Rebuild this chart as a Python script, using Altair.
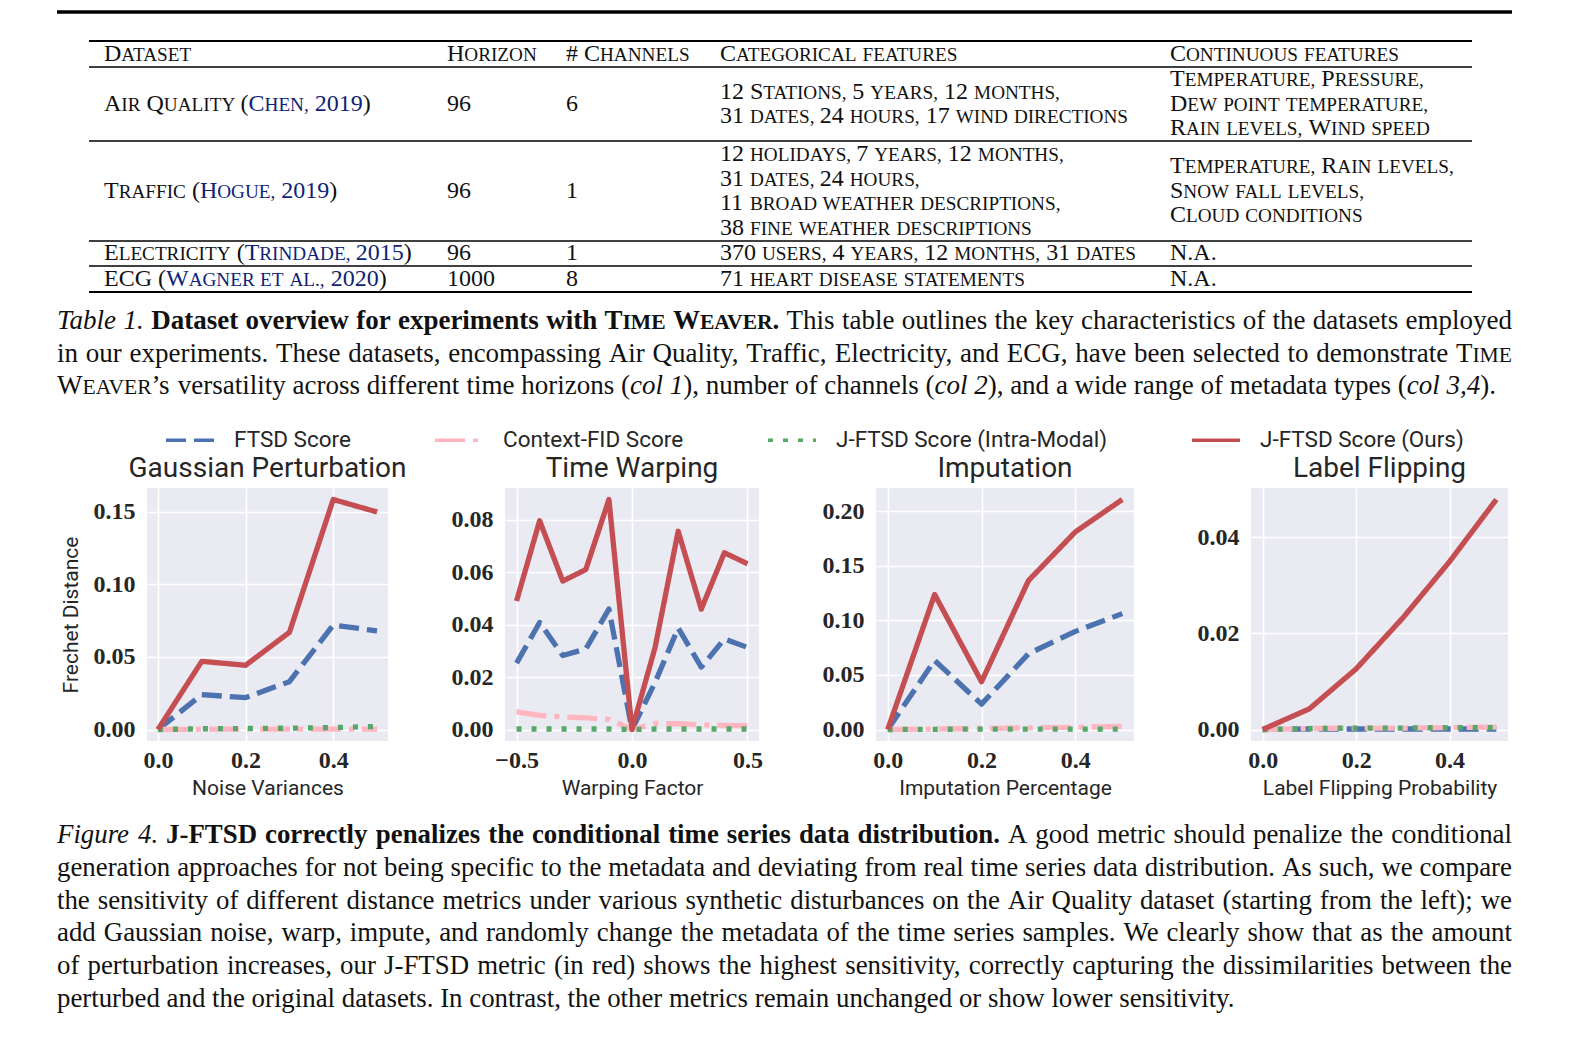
import altair as alt
import pandas as pd

# ---------------------------------------------------------------- chart data
SERIES = ["FTSD Score", "Context-FID Score", "J-FTSD Score (Intra-Modal)", "J-FTSD Score (Ours)"]

gauss_x = [0.0, 0.1, 0.2, 0.3, 0.4, 0.5]
gauss_ftsd = [0.0, 0.024, 0.022, 0.033, 0.072, 0.068]
gauss_cfid = [0.0, 0.0002, 0.0002, 0.0002, 0.0003, 0.0002]
gauss_intra = [0.0, 0.0005, 0.0007, 0.0009, 0.0013, 0.0021]
gauss_ours = [0.0, 0.047, 0.0443, 0.067, 0.1586, 0.150]

warp_x = [-0.5, -0.4, -0.3, -0.2, -0.1, 0.0, 0.1, 0.2, 0.3, 0.4, 0.5]
warp_ftsd = [0.0253, 0.0408, 0.0282, 0.0307, 0.0459, 0.0, 0.018, 0.0387, 0.0238, 0.0345, 0.0313]
warp_cfid = [0.0067, 0.0054, 0.0048, 0.0044, 0.0039, 0.0, 0.0023, 0.0022, 0.0018, 0.0016, 0.0015]
warp_intra = [0.0002, 0.0002, 0.0002, 0.0002, 0.0002, 0.0, 0.0002, 0.0002, 0.0002, 0.0002, 0.0002]
warp_ours = [0.049, 0.0796, 0.0566, 0.061, 0.0877, 0.0, 0.0313, 0.0756, 0.0459, 0.0674, 0.0632]

imp_x = [0.0, 0.1, 0.2, 0.3, 0.4, 0.5]
imp_ftsd = [0.0, 0.0634, 0.0233, 0.0695, 0.090, 0.1063]
imp_cfid = [0.0, 0.0005, 0.001, 0.0015, 0.002, 0.0028]
imp_intra = [0.0, 0.0002, 0.0003, 0.0003, 0.0004, 0.0004]
imp_ours = [0.0, 0.1239, 0.0438, 0.1366, 0.1813, 0.211]

flip_x = [0.0, 0.1, 0.2, 0.3, 0.4, 0.5]
flip_ftsd = [0.0, 0.0001, 0.0001, 0.0001, 0.0001, 0.0001]
flip_cfid = [0.0, 0.0002, 0.0003, 0.0003, 0.0004, 0.0005]
flip_intra = [0.0, 0.0002, 0.0003, 0.0003, 0.0004, 0.0004]
flip_ours = [0.0, 0.0043, 0.0126, 0.0232, 0.0349, 0.0478]

PANEL_TITLES = ["Gaussian Perturbation", "Time Warping", "Imputation", "Label Flipping"]
X_TITLES = ["Noise Variances", "Warping Factor", "Imputation Percentage", "Label Flipping Probability"]
Y_TITLE = "Frechet Distance"
X_TICKS = [[0.0, 0.2, 0.4], [-0.5, 0.0, 0.5], [0.0, 0.2, 0.4], [0.0, 0.2, 0.4]]
Y_TICKS = [[0.0, 0.05, 0.10, 0.15], [0.0, 0.02, 0.04, 0.06, 0.08],
           [0.0, 0.05, 0.10, 0.15, 0.20], [0.0, 0.02, 0.04]]

# ---------------------------------------------------------------- text data
TABLE_HEADER = ["Dataset", "Horizon", "# Channels", "Categorical features", "Continuous features"]
TABLE_DATASET = [
    [("Air Quality (", "sc"), ("Chen, 2019", "csc"), (")", "sc")],
    [("Traffic (", "sc"), ("Hogue, 2019", "csc"), (")", "sc")],
    [("Electricity (", "sc"), ("Trindade, 2015", "csc"), (")", "sc")],
    [("ECG (", "sc"), ("Wagner et al., 2020", "csc"), (")", "sc")],
]
TABLE_HORIZON = ["96", "96", "96", "1000"]
TABLE_CHANNELS = ["6", "1", "1", "8"]
TABLE_CATEGORICAL = [
    ["12 Stations, 5 years, 12 months,", "31 dates, 24 hours, 17 wind directions"],
    ["12 holidays, 7 years, 12 months,", "31 dates, 24 hours,",
     "11 broad weather descriptions,", "38 fine weather descriptions"],
    ["370 users, 4 years, 12 months, 31 dates"],
    ["71 heart disease statements"],
]
TABLE_CONTINUOUS = [
    ["Temperature, Pressure,", "Dew point temperature,", "Rain levels, Wind speed"],
    ["Temperature, Rain levels,", "Snow fall levels,", "Cloud conditions"],
    ["N.A."],
    ["N.A."],
]

TABLE_CAPTION = [
    [("Table 1.", "i"), (" ", "r"), ("Dataset overview for experiments with ", "b"), ("Time Weaver", "bsc"),
     (".", "b"), (" This table outlines the key characteristics of the datasets employed", "r")],
    [("in our experiments. These datasets, encompassing Air Quality, Traffic, Electricity, and ECG, "
      "have been selected to demonstrate ", "r"), ("Time", "sc")],
    [("Weaver", "sc"), ("\u2019s versatility across different time horizons (", "r"), ("col 1", "i"),
     ("), number of channels (", "r"), ("col 2", "i"), ("), and a wide range of metadata types (", "r"),
     ("col 3,4", "i"), (").", "r")],
]
FIGURE_CAPTION = [
    [("Figure 4.", "i"), (" ", "r"),
     ("J-FTSD correctly penalizes the conditional time series data distribution.", "b"),
     (" A good metric should penalize the conditional", "r")],
    [("generation approaches for not being specific to the metadata and deviating from real time series "
      "data distribution. As such, we compare", "r")],
    [("the sensitivity of different distance metrics under various synthetic disturbances on the Air "
      "Quality dataset (starting from the left); we", "r")],
    [("add Gaussian noise, warp, impute, and randomly change the metadata of the time series samples. "
      "We clearly show that as the amount", "r")],
    [("of perturbation increases, our J-FTSD metric (in red) shows the highest sensitivity, correctly "
      "capturing the dissimilarities between the", "r")],
    [("perturbed and the original datasets. In contrast, the other metrics remain unchanged or show "
      "lower sensitivity.", "r")],
]

# ---------------------------------------------------------------- styles / layout
COLORS = ["#4C72B0", "#FFB6C1", "#55A868", "#C44E52"]
DASHES = [[20, 8], [30, 8, 5, 8], [5, 10], [1, 0]]
INK = "#262626"
BLACK = "#111111"
BLUE = "#101f78"
PAGE_W = 1554
HT = 447          # height of the top text block
BOT0 = 795        # page y where the bottom text block starts
HB = 225
LEG_X, LEG_Y = 156, 406
PANEL_W = [241, 254, 258, 257]
PANEL_H = 253

# Times metrics (1/1000 em) for laying out runs of text
UP = "ABCDEFGHIJKLMNOPQRSTUVWXYZ"
LO = "abcdefghijklmnopqrstuvwxyz"
R_UP = [722, 667, 667, 722, 611, 556, 722, 722, 333, 389, 722, 611, 889, 722, 722, 556, 722, 667, 556, 611, 722, 722, 944, 722, 722, 611]
R_LO = [444, 500, 444, 500, 444, 333, 500, 500, 278, 278, 500, 278, 778, 500, 500, 500, 500, 333, 389, 278, 500, 500, 722, 500, 500, 444]
B_UP = [722, 667, 722, 722, 667, 611, 778, 778, 389, 500, 778, 667, 944, 722, 778, 611, 778, 722, 556, 667, 722, 722, 1000, 722, 722, 667]
B_LO = [500, 556, 444, 556, 444, 333, 500, 556, 278, 333, 556, 278, 833, 556, 500, 556, 556, 444, 389, 333, 556, 500, 722, 500, 500, 444]
I_UP = [611, 611, 667, 722, 611, 611, 722, 722, 333, 444, 667, 556, 833, 667, 722, 611, 722, 611, 500, 556, 722, 611, 833, 611, 556, 556]
I_LO = [500, 500, 444, 500, 444, 278, 500, 500, 278, 278, 444, 278, 722, 500, 500, 500, 500, 389, 389, 278, 500, 444, 667, 444, 444, 389]
PUNCT = {" ": 250, ",": 250, ".": 250, "(": 333, ")": 333, "-": 333, "#": 500, "\u2019": 333, ";": 278, ":": 278}
for d in "0123456789":
    PUNCT[d] = 500
METRICS = {
    "r": {**PUNCT, **dict(zip(UP, R_UP)), **dict(zip(LO, R_LO))},
    "b": {**PUNCT, ";": 333, ":": 333, **dict(zip(UP, B_UP)), **dict(zip(LO, B_LO))},
    "i": {**PUNCT, **dict(zip(UP, I_UP)), **dict(zip(LO, I_LO))},
}
KERN = {"AT": -111, "TA": -93, "AV": -135, "VA": -135, "AW": -90, "WA": -90, "AY": -105, "YA": -120,
        "LT": -92, "LV": -100, "LY": -100, "LW": -74, "PA": -92, "FA": -74, "RT": -60, "RV": -80,
        "RW": -55, "RY": -65, "OV": -50, "VO": -40, "AO": -55, "AU": -55, "UA": -40, "AC": -40,
        "AG": -40, "OA": -35, "DA": -40, "Ta": -80, "Te": -70, "To": -80, "Ty": -80, "Tr": -35,
        "Wa": -80, "We": -92, "y.": -65, "y,": -65, "v,": -65, "w,": -65, "r,": -40, "r.": -55,
        "T.": -74, "V.": -129, "Y,": -129}
STYLES = {
    "r": ("r", "normal", "normal", False, BLACK),
    "b": ("b", "bold", "normal", False, BLACK),
    "i": ("i", "normal", "italic", False, BLACK),
    "sc": ("r", "normal", "normal", True, BLACK),
    "bsc": ("b", "bold", "normal", True, BLACK),
    "csc": ("r", "normal", "normal", True, BLUE),
}
SC = 0.8


def runs_of(text, style, size):
    sc = STYLES[style][3]
    pieces = []
    for ch in text:
        if sc and ch.islower():
            c, s = ch.upper(), size * SC
        elif sc and not ch.isalnum() and pieces:
            c, s = ch, pieces[-1][1]
        else:
            c, s = ch, size
        if pieces and pieces[-1][1] == s:
            pieces[-1][0] += c
        else:
            pieces.append([c, s])
    return [(c, s, style) for c, s in pieces]


def run_w(txt, px, style):
    m = METRICS[STYLES[style][0]]
    w = sum(m.get(ch, 500) for ch in txt)
    w += sum(KERN.get(txt[k:k + 2], 0) for k in range(len(txt) - 1))
    return w / 1000.0 * px


def layout_line(segs, x0, base, size, target=None):
    items = []
    for text, st in segs:
        for k, p in enumerate(text.split(" ")):
            if k:
                items.append((True, " ", st))
            if p:
                items.append((False, p, st))
    widths = [sum(run_w(*r) for r in runs_of(t, st, size)) for _, t, st in items]
    nat = sum(widths)
    nsp = sum(1 for sp, _, _ in items if sp)
    extra = (target - nat) / nsp if (target and nsp) else 0.0
    x, out = x0, []
    for (sp, t, st), w in zip(items, widths):
        if sp:
            x += w + extra
            continue
        for r in runs_of(t, st, size):
            out.append(dict(x=x, y=base, text=r[0], size=r[1], style=r[2]))
            x += run_w(*r)
    return out, nat


def paragraph(lines, x0, baselines, target, base_size=27.0):
    worst = max(layout_line(l, 0, 0, base_size)[1] for l in lines[:-1])
    size = min(base_size, base_size * target / worst * 0.998)
    recs = []
    for i, (l, b) in enumerate(zip(lines, baselines)):
        recs += layout_line(l, x0, b, size, target if i < len(lines) - 1 else None)[0]
    return recs


# ---- table layout (page pixels)
COL_X = [104, 447, 566, 720, 1170]
ROW_BOUNDS = [41, 67, 141, 241, 266, 292]
PITCH = 24.6
T_SIZE = 24.0


def cell(lines, col, row):
    c = (ROW_BOUNDS[row] + ROW_BOUNDS[row + 1]) / 2 - 1
    n = len(lines)
    recs = []
    for i, segs in enumerate(lines):
        b = c + 7.8 + (i - (n - 1) / 2) * PITCH
        recs += layout_line(segs, COL_X[col], b, T_SIZE)[0]
    return recs


top_recs = []
for j, h in enumerate(TABLE_HEADER):
    top_recs += cell([[(h, "sc")]], j, 0)
for r in range(4):
    top_recs += cell([TABLE_DATASET[r]], 0, r + 1)
    top_recs += cell([[(TABLE_HORIZON[r], "r")]], 1, r + 1)
    top_recs += cell([[(TABLE_CHANNELS[r], "r")]], 2, r + 1)
    top_recs += cell([[(t, "sc")] for t in TABLE_CATEGORICAL[r]], 3, r + 1)
    top_recs += cell([[(t, "sc")] for t in TABLE_CONTINUOUS[r]], 4, r + 1)
top_recs += paragraph(TABLE_CAPTION, 57, [329, 361.7, 394.4], 1455)

top_rules = [dict(x1=57, x2=1512, y=12, w=3.5)]
for k, yb in enumerate(ROW_BOUNDS):
    top_rules.append(dict(x1=89, x2=1472, y=yb, w=2.0 if k in (0, 5) else 1.3))

bot_recs = paragraph(FIGURE_CAPTION, 57, [840, 872.8, 905.6, 938.4, 971.2, 1004], 1455)


def text_chart(recs, rules, y0, height):
    df = pd.DataFrame(recs)
    df["x"] = df["x"] - 8
    df["y"] = df["y"] - y0
    df["wt"] = df["style"].map(lambda s: STYLES[s][1])
    df["it"] = df["style"].map(lambda s: STYLES[s][2])
    df["col"] = df["style"].map(lambda s: STYLES[s][4])
    xs = alt.Scale(domain=[0, PAGE_W], nice=False, zero=False)
    ys = alt.Scale(domain=[0, height], reverse=True, nice=False, zero=False)
    layers = []
    for (wt, it, col), sub in df.groupby(["wt", "it", "col"]):
        layers.append(
            alt.Chart(sub[["x", "y", "text", "size"]]).mark_text(
                align="left", baseline="alphabetic", font="Liberation Serif",
                fontWeight=wt, fontStyle=it, color=col
            ).encode(
                x=alt.X("x:Q", scale=xs, axis=None),
                y=alt.Y("y:Q", scale=ys, axis=None),
                text="text:N",
                size=alt.Size("size:Q", scale=None),
            )
        )
    if rules:
        rd = pd.DataFrame(rules)
        rd["x1"] -= 8
        rd["x2"] -= 8
        rd["y"] -= y0
        layers.append(
            alt.Chart(rd).mark_rule(color="#000000").encode(
                x=alt.X("x1:Q", scale=xs, axis=None),
                x2="x2:Q",
                y=alt.Y("y:Q", scale=ys, axis=None),
                strokeWidth=alt.StrokeWidth("w:Q", scale=None),
            )
        )
    return alt.layer(*layers).properties(width=PAGE_W, height=height)


# ---------------------------------------------------------------- panels
CSCALE = alt.Scale(domain=SERIES, range=COLORS)
DSCALE = alt.Scale(domain=SERIES, range=DASHES)
LEG = alt.Legend(title=None, orient="none", legendX=LEG_X, legendY=LEG_Y, direction="horizontal",
                 columns=4, columnPadding=77, symbolType="stroke", symbolSize=2304,
                 symbolStrokeWidth=3.5, labelFont="Roboto", labelFontSize=22.5, labelColor=INK,
                 labelOffset=18, labelLimit=500, padding=0)
AX = dict(grid=True, gridColor="#FFFFFF", gridWidth=1.6, domain=False, ticks=False,
          labelFont="Liberation Serif", labelFontSize=24, labelFontWeight="bold", labelColor=INK,
          titleFont="Roboto", titleFontSize=21, titleFontWeight="normal", titleColor=INK,
          labelFlush=False)


def long_df(xs, cols):
    rows = []
    for s, ys in zip(SERIES, cols):
        for x, y in zip(xs, ys):
            rows.append({"x": x, "y": y, "series": s})
    return pd.DataFrame(rows)


def margin(vals, f=0.05):
    lo, hi = min(vals), max(vals)
    r = hi - lo
    return [lo - f * r, hi + f * r]


def panel(i, df):
    xaxis = alt.Axis(values=X_TICKS[i], format=".1f", labelPadding=7, title=X_TITLES[i],
                     titlePadding=5, **AX)
    if i == 0:
        yaxis = alt.Axis(values=Y_TICKS[i], format=".2f", labelPadding=12, title=Y_TITLE,
                         titlePadding=12, **AX)
    else:
        yaxis = alt.Axis(values=Y_TICKS[i], format=".2f", labelPadding=12, title=None, **AX)
    return alt.Chart(df).mark_line(strokeWidth=5.3, strokeJoin="round").encode(
        x=alt.X("x:Q", scale=alt.Scale(domain=margin(df["x"].tolist()), nice=False, zero=False), axis=xaxis),
        y=alt.Y("y:Q", scale=alt.Scale(domain=margin(df["y"].tolist()), nice=False, zero=False), axis=yaxis),
        color=alt.Color("series:N", scale=CSCALE, legend=LEG),
        strokeDash=alt.StrokeDash("series:N", scale=DSCALE, legend=LEG),
    ).properties(
        width=PANEL_W[i], height=PANEL_H,
        title=alt.TitleParams(PANEL_TITLES[i], font="Roboto", fontSize=28, fontWeight="normal",
                              color=INK, anchor="middle", frame="group", offset=5),
        view=alt.ViewBackground(fill="#EAEAF2", strokeWidth=0),
    )


dfs = [
    long_df(gauss_x, [gauss_ftsd, gauss_cfid, gauss_intra, gauss_ours]),
    long_df(warp_x, [warp_ftsd, warp_cfid, warp_intra, warp_ours]),
    long_df(imp_x, [imp_ftsd, imp_cfid, imp_intra, imp_ours]),
    long_df(flip_x, [flip_ftsd, flip_cfid, flip_intra, flip_ours]),
]
panels = [panel(i, d) for i, d in enumerate(dfs)]

spacer = alt.Chart(pd.DataFrame({"v": [0]})).mark_point(opacity=0, size=1).encode(
    x=alt.value(11), y=alt.value(100)
).properties(width=22, height=PANEL_H)

fig_row = alt.hconcat(spacer, *panels, spacing=117, bounds="flush")

top = text_chart(top_recs, top_rules, 8, HT)
bottom = text_chart(bot_recs, [], BOT0, HB)

chart = alt.vconcat(top, fig_row, bottom, spacing=0).properties(padding=0).configure_view(strokeWidth=0)
chart.save("out.html", embed_options={"renderer": "svg", "actions": False})
